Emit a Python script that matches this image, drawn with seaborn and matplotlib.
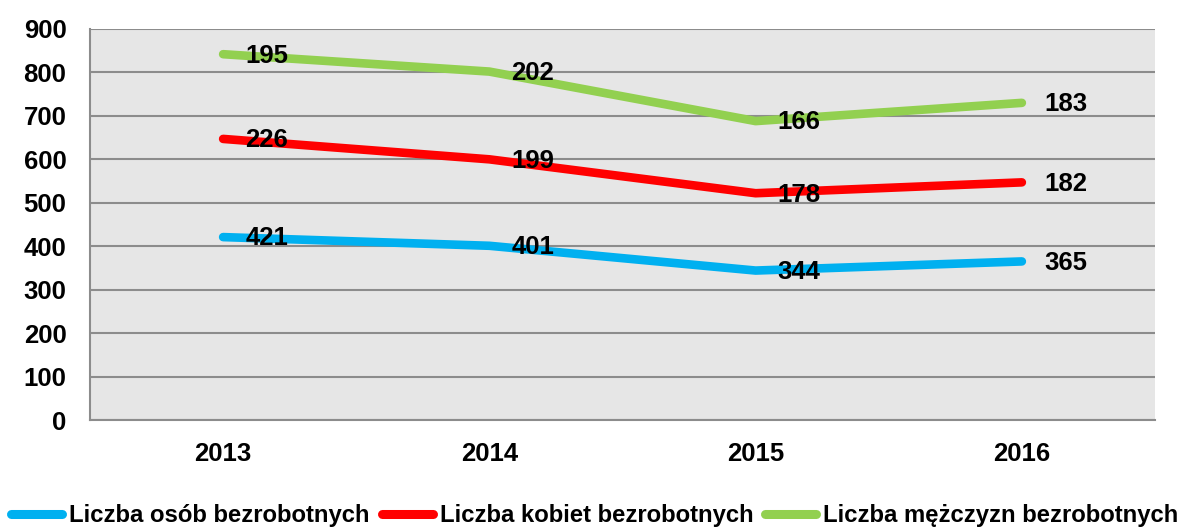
import matplotlib
matplotlib.use("Agg")
import matplotlib.pyplot as plt
import seaborn as sns
import pandas as pd
import numpy as np

years = ["2013", "2014", "2015", "2016"]
osob = [421, 401, 344, 365]
kobiet = [226, 199, 178, 182]
mezczyzn = [195, 202, 166, 183]
series_names = ["Liczba osób bezrobotnych", "Liczba kobiet bezrobotnych", "Liczba mężczyzn bezrobotnych"]
colors = ["#00B0F0", "#FF0000", "#92D050"]
yticks = [0, 100, 200, 300, 400, 500, 600, 700, 800, 900]

sns.set_style("white")
plt.rcParams["font.family"] = ["Liberation Sans", "DejaVu Sans"]
plt.rcParams["font.weight"] = "bold"
plt.rcParams["text.color"] = "black"
plt.rcParams["xtick.labelcolor"] = "black"
plt.rcParams["ytick.labelcolor"] = "black"

# stacked (cumulative) lines, labels show own values
vals = [osob, kobiet, mezczyzn]
cum = np.cumsum(np.array(vals), axis=0)
rows = []
for s, name in enumerate(series_names):
    for i, y in enumerate(years):
        rows.append({"rok": y, "wartosc": cum[s][i], "seria": name, "etykieta": vals[s][i]})
df = pd.DataFrame(rows)

FS = 18.5
fig = plt.figure(figsize=(11.84, 5.28), dpi=100)
ax = fig.add_axes([90 / 1184, 1 - 420 / 528, (1155 - 90) / 1184, (420 - 29) / 528])
ax.set_facecolor("#E6E6E6")

sns.lineplot(data=df, x="rok", y="wartosc", hue="seria", palette=colors,
             linewidth=6.2, ax=ax, legend=True, solid_capstyle="round")

for s in range(3):
    for i in range(len(years)):
        ax.annotate(str(vals[s][i]), (i, cum[s][i]), xytext=(16, -1), textcoords="offset points",
                    ha="left", va="center", fontsize=FS, fontweight="bold", color="black")

ax.set_xlim(-0.5, len(years) - 0.5)
ax.set_ylim(0, 900)
ax.set_yticks(yticks)
ax.set_yticklabels([str(t) for t in yticks])
ax.set_xticks(range(len(years)))
ax.set_xticklabels(years)
ax.set_xticks(np.arange(-0.5, len(years), 1.0), minor=True)
ax.tick_params(axis="x", which="major", length=0, pad=16, labelsize=FS)
ax.tick_params(axis="x", which="minor", length=7, color="#8C8C8C", width=1.5, direction="out")
ax.tick_params(axis="y", which="major", length=6, color="#8C8C8C", width=1.5, labelsize=FS, pad=11)
ax.grid(axis="y", color="#8C8C8C", linewidth=1.5)
ax.set_axisbelow(True)
for side in ["top", "right"]:
    ax.spines[side].set_visible(False)
for side in ["left", "bottom"]:
    ax.spines[side].set_color("#8C8C8C")
    ax.spines[side].set_linewidth(1.5)
ax.set_xlabel("")
ax.set_ylabel("")

handles, labels = ax.get_legend_handles_labels()
ax.legend(handles, labels, loc="center", bbox_to_anchor=((595 - 90) / 1065, -0.245), ncol=3,
          frameon=False, fontsize=17.2, handlelength=2.13, handletextpad=0.3, columnspacing=0.5,
          borderaxespad=0, borderpad=0)
for l in ax.get_legend().get_lines():
    l.set_linewidth(6.5)
    l.set_solid_capstyle("round")

fig.savefig("out.png", dpi=100)
